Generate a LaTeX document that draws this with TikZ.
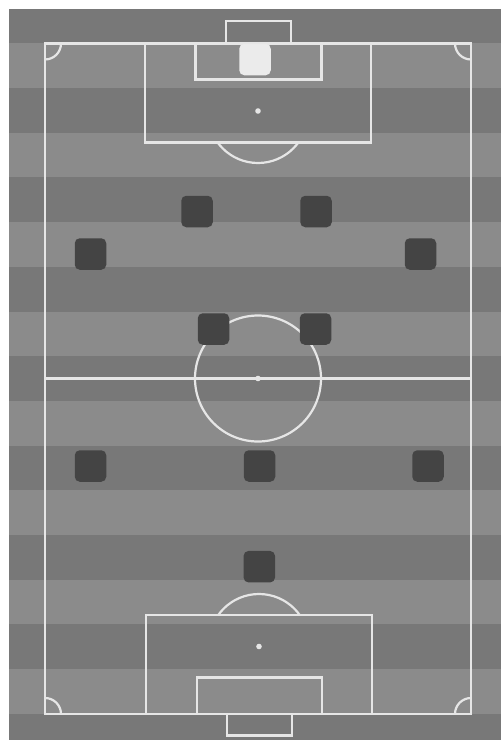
\documentclass[tikz,border=0pt]{standalone}
\usepackage{tikz}
\usetikzlibrary{positioning}
\definecolor{stripedark}{HTML}{787878}
\definecolor{stripelight}{HTML}{8B8B8B}
\definecolor{fieldline}{HTML}{E6E6E6}
\definecolor{playerdark}{HTML}{444444}
\definecolor{keeperlight}{HTML}{EBEBEB}
\begin{document}
\begin{tikzpicture}[x=1pt,y=-1pt,
  line/.style={draw=fieldline,line width=2.2pt},
  player/.style={rectangle,rounded corners=5pt,minimum size=31.5pt,inner sep=0pt,fill=playerdark},
  keeper/.style={player,fill=keeperlight}]
  \useasboundingbox (0,0) rectangle (501,740);
  \fill[white] (0,0) rectangle (501,740);
  \begin{scope}
    \clip (9,9) rectangle (501,740);
    \foreach \k in {0,...,16}{
      \pgfmathtruncatemacro{\odd}{mod(\k,2)}
      \ifnum\odd=0 \def\stripe{stripedark}\else\def\stripe{stripelight}\fi
      \fill[\stripe] (9,-1.4+44.7*\k) rectangle (501,43.3+44.7*\k);
    }
  \end{scope}
  % pitch markings
  \draw[line] (45,43.5) rectangle (471,714);
  \draw[line] (45,378.5) -- (471,378.5);
  \draw[line] (258,378.5) circle (63);
  \fill[fieldline] (258,378.5) circle (2.8);
  \begin{scope}
    \clip (45,43.5) rectangle (471,714);
    \foreach \cx/\cy in {45/43.5,471/43.5,45/714,471/714}
      \draw[line] (\cx,\cy) circle (16);
  \end{scope}
  % top end
  \draw[line] (145,43.5) rectangle (371,142.5);
  \draw[line] (195.5,43.5) rectangle (321.5,79.5);
  \draw[line] (226,21) rectangle (291,43.5);
  \fill[fieldline] (258,111) circle (2.8);
  \begin{scope}
    \clip (0,142.5) rectangle (501,200);
    \draw[line] (258,113) circle (50);
  \end{scope}
  % bottom end
  \draw[line] (146,615) rectangle (372,714);
  \draw[line] (197,677.5) rectangle (322,714);
  \draw[line] (227,714) rectangle (292,735.5);
  \fill[fieldline] (259,646.5) circle (2.8);
  \begin{scope}
    \clip (0,560) rectangle (501,615);
    \draw[line] (259,644) circle (50);
  \end{scope}
  % players
  \node[keeper] (gk)  at (255,59.5) {};
  \node[player] (cbl) at (197,211.5) {};
  \node[player] (cbr) at (316,211.5) {};
  \node[player] (fbl) at (90.5,254) {};
  \node[player] (fbr) at (420.5,254) {};
  \node[player] (cml) at (213.5,329) {};
  \node[player] (cmr) at (315.5,329) {};
  \node[player] (wl)  at (90.5,466) {};
  \node[player] (am)  at (259.5,466) {};
  \node[player] (wr)  at (428,466) {};
  \node[player] (st)  at (259.3,566.7) {};
\end{tikzpicture}
\end{document}
